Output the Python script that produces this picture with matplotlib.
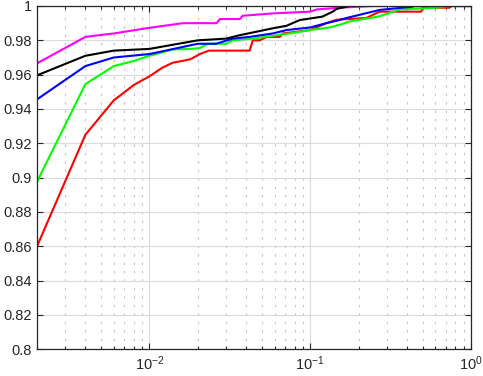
import matplotlib
matplotlib.use("Agg")
import matplotlib.pyplot as plt
from matplotlib.ticker import LogLocator, NullFormatter

plt.rcParams['font.family'] = ['Liberation Sans', 'DejaVu Sans']

red_x = [0.002, 0.004, 0.006, 0.008, 0.010, 0.012, 0.014, 0.016, 0.018, 0.0206, 0.0234,
         0.042, 0.044, 0.0485, 0.0537, 0.0646, 0.0675, 0.10, 0.126, 0.146, 0.223, 0.27,
         0.49, 0.50, 0.735, 0.755, 1.0]
red_y = [0.860, 0.925, 0.945, 0.954, 0.959, 0.964, 0.967, 0.968, 0.969, 0.972, 0.974,
         0.974, 0.980, 0.980, 0.982, 0.982, 0.984, 0.986, 0.990, 0.992, 0.993, 0.9967,
         0.9967, 0.999, 0.999, 1.0, 1.0]

green_x = [0.002, 0.004, 0.006, 0.008, 0.010, 0.014, 0.018, 0.0206, 0.023, 0.030, 0.033,
           0.044, 0.0745, 0.10, 0.132, 0.152, 0.176, 0.27, 0.36, 0.61, 0.735, 1.0]
green_y = [0.8976, 0.9545, 0.965, 0.968, 0.971, 0.9747, 0.9750, 0.9755, 0.978, 0.978, 0.980,
           0.981, 0.984, 0.986, 0.9875, 0.989, 0.991, 0.994, 0.998, 0.999, 1.0, 1.0]

blue_x = [0.002, 0.004, 0.006, 0.010, 0.020, 0.026, 0.033, 0.042, 0.0585, 0.0714, 0.10,
          0.126, 0.146, 0.168, 0.27, 0.432, 0.446, 1.0]
blue_y = [0.9456, 0.965, 0.970, 0.972, 0.978, 0.978, 0.981, 0.982, 0.984, 0.986, 0.9875,
          0.990, 0.9914, 0.993, 0.9977, 0.9996, 1.0, 1.0]

black_x = [0.002, 0.004, 0.006, 0.010, 0.020, 0.030, 0.0365, 0.0585, 0.0714, 0.086, 0.119,
           0.138, 0.146, 0.168, 0.176, 1.0]
black_y = [0.9596, 0.971, 0.974, 0.975, 0.980, 0.981, 0.983, 0.987, 0.9885, 0.9918, 0.9938,
           0.9967, 0.9983, 0.9996, 1.0, 1.0]

magenta_x = [0.002, 0.004, 0.006, 0.010, 0.0162, 0.0262, 0.0274, 0.0365, 0.038, 0.0585,
             0.10, 0.11, 0.152, 0.244, 1.0]
magenta_y = [0.9666, 0.982, 0.984, 0.9873, 0.990, 0.990, 0.9924, 0.9924, 0.9943, 0.9957,
             0.9967, 0.998, 0.999, 1.0, 1.0]

y_ticks = [0.8, 0.82, 0.84, 0.86, 0.88, 0.9, 0.92, 0.94, 0.96, 0.98, 1.0]
y_tick_labels = ['0.8', '0.82', '0.84', '0.86', '0.88', '0.9', '0.92', '0.94', '0.96', '0.98', '1']
x_ticks = [0.01, 0.1, 1.0]
x_tick_labels = [r'$\mathregular{10^{-2}}$', r'$\mathregular{10^{-1}}$', r'$\mathregular{10^{0}}$']

fig = plt.figure(figsize=(4.83, 3.76), dpi=100)
ax = fig.add_axes([37/483, (376-349.3)/376, (471-37)/483, (349.3-6)/376])

lw = 1.5
ax.plot(red_x, red_y, color=(1, 0, 0), lw=lw)
ax.plot(green_x, green_y, color=(0, 1, 0), lw=lw)
ax.plot(blue_x, blue_y, color=(0, 0, 1), lw=lw)
ax.plot(magenta_x, magenta_y, color=(1, 0, 1), lw=lw)
ax.plot(black_x, black_y, color=(0, 0, 0), lw=lw)

ax.set_xscale('log')
ax.set_xlim(0.002, 1.0)
ax.set_ylim(0.8, 1.0)
ax.set_yticks(y_ticks)
ax.set_yticklabels(y_tick_labels)
ax.set_xticks(x_ticks)
ax.set_xticklabels(x_tick_labels)
ax.xaxis.set_minor_locator(LogLocator(base=10, subs=range(2, 10)))
ax.xaxis.set_minor_formatter(NullFormatter())

ax.grid(True, which='major', color='#dadada', linestyle='-', linewidth=0.8)
ax.grid(True, which='minor', axis='x', color='#c4c4c4', linestyle=(0, (2.2, 5.4)), linewidth=0.8)
ax.set_axisbelow(True)

ax.tick_params(which='both', direction='in', top=True, right=True, labelsize=10.5,
               colors='#262626', width=0.8)
ax.tick_params(which='major', length=4)
ax.tick_params(which='minor', length=2)
for s in ax.spines.values():
    s.set_color('#262626')
    s.set_linewidth(0.9)

fig.savefig('out.png', dpi=100)
